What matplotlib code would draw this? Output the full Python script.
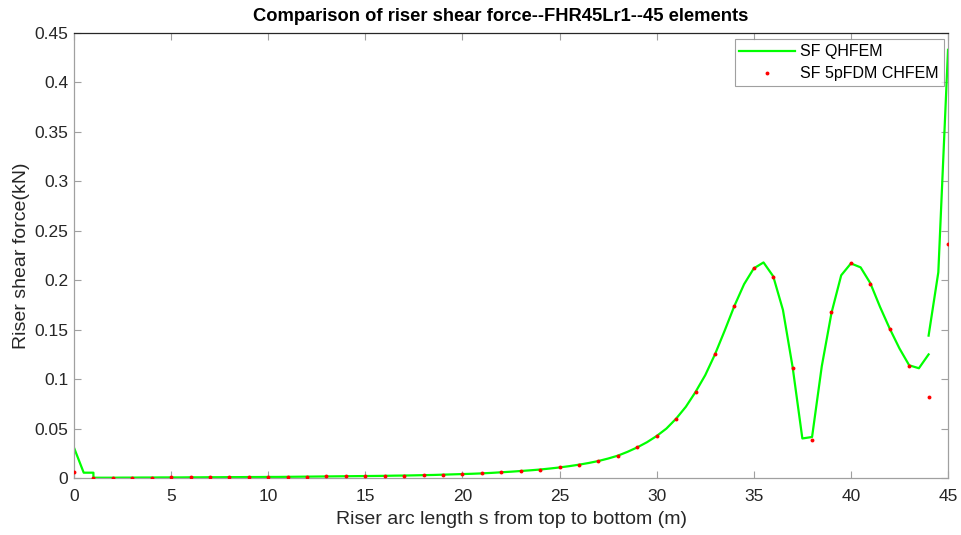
import numpy as np
import matplotlib
matplotlib.use("Agg")
import matplotlib.pyplot as plt

plt.rcParams['font.family'] = ['Liberation Sans', 'DejaVu Sans']

# Shear force from the 5-point FDM CHFEM solution, one value per node (m)
fdm_s = list(range(0, 46))
fdm_sf = [0.0057, 0.0003, 0.0003, 0.0004, 0.0005, 0.0006, 0.0007, 0.0008,
          0.0009, 0.0010, 0.0011, 0.0012, 0.0014, 0.0016, 0.0018, 0.0020,
          0.0022, 0.0025, 0.0029, 0.0034, 0.0040, 0.0047, 0.0058, 0.0071,
          0.0086, 0.0107, 0.0135, 0.0172, 0.0226, 0.0310, 0.0423, 0.0600,
          0.0867, 0.1250, 0.1740, 0.2125, 0.2030, 0.1110, 0.0385, 0.1675,
          0.2170, 0.1965, 0.1505, 0.1130, 0.0820, 0.2370]

# Shear force from QHFEM, sampled at element ends and mid-points
qh_s = [0.0, 0.5, 1.0, 1.0, 1.5, 2.0, 2.5, 3.0, 3.5, 4.0, 4.5, 5.0, 5.5, 6.0,
        6.5, 7.0, 7.5, 8.0, 8.5, 9.0, 9.5, 10.0, 10.5, 11.0, 11.5, 12.0,
        12.5, 13.0, 13.5, 14.0, 14.5, 15.0, 15.5, 16.0, 16.5, 17.0, 17.5,
        18.0, 18.5, 19.0, 19.5, 20.0, 20.5, 21.0, 21.5, 22.0, 22.5, 23.0,
        23.5, 24.0, 24.5, 25.0, 25.5, 26.0, 26.5, 27.0, 27.5, 28.0, 28.5,
        29.0, 29.5, 30.0, 30.5, 31.0, 31.5, 32.0, 32.5, 33.0, 33.5, 34.0,
        34.5, 35.0, 35.5, 36.0, 36.5, 37.0, 37.5, 38.0, 38.5, 39.0, 39.5,
        40.0, 40.5, 41.0, 41.5, 42.0, 42.5, 43.0, 43.5, 44.0, np.nan,
        44.0, 44.5, 45.0]
qh_sf = [0.0307, 0.0054, 0.0054, 0.0003, 0.0003, 0.0003, 0.0004, 0.0004,
         0.0005, 0.0005, 0.0006, 0.0006, 0.0006, 0.0007, 0.0007, 0.0008,
         0.0008, 0.0009, 0.0009, 0.0010, 0.0010, 0.0011, 0.0011, 0.0012,
         0.0013, 0.0014, 0.0015, 0.0016, 0.0017, 0.0018, 0.0019, 0.0020,
         0.0021, 0.0022, 0.0024, 0.0025, 0.0027, 0.0029, 0.0031, 0.0034,
         0.0037, 0.0040, 0.0043, 0.0047, 0.0052, 0.0058, 0.0064, 0.0071,
         0.0078, 0.0086, 0.0096, 0.0107, 0.0120, 0.0135, 0.0152, 0.0172,
         0.0197, 0.0226, 0.0265, 0.0310, 0.0362, 0.0425, 0.0500, 0.0600,
         0.0720, 0.0870, 0.1040, 0.1250, 0.1490, 0.1740, 0.1960, 0.2120,
         0.2180, 0.2040, 0.1700, 0.1120, 0.0400, 0.0415, 0.1130, 0.1670,
         0.2050, 0.2170, 0.2130, 0.1970, 0.1730, 0.1510, 0.1310, 0.1140,
         0.1110, 0.1250, np.nan, 0.1440, 0.2080, 0.4330]

x_ticks = list(range(0, 46, 5))
y_ticks = [0, 0.05, 0.1, 0.15, 0.2, 0.25, 0.3, 0.35, 0.4, 0.45]
y_tick_labels = ['0', '0.05', '0.1', '0.15', '0.2', '0.25', '0.3', '0.35', '0.4', '0.45']

fig = plt.figure(figsize=(9.61, 5.35), dpi=100)
ax = fig.add_axes([0.077, 0.1065, 0.9095, 0.8318])

ax.plot(qh_s, qh_sf, color='#00ff00', lw=1.6, label='SF QHFEM', zorder=2)
ax.plot(fdm_s, fdm_sf, linestyle='none', marker='o', markersize=2.8,
        color='#ff0000', markeredgewidth=0, label='SF 5pFDM CHFEM', zorder=3)

ax.set_xlim(0, 45)
ax.set_ylim(0, 0.45)
ax.set_xticks(x_ticks)
ax.set_yticks(y_ticks)
ax.set_yticklabels(y_tick_labels)

axis_grey = '#a0a0a0'
text_grey = '#262626'
ax.spines['left'].set_color(axis_grey)
ax.spines['bottom'].set_color(axis_grey)
ax.spines['right'].set_color(axis_grey)
ax.spines['top'].set_color('#262626')
for sp in ax.spines.values():
    sp.set_linewidth(0.9)

ax.tick_params(direction='in', length=5, width=0.8, colors=axis_grey,
               labelcolor=text_grey, labelsize=12.5, top=True, right=True)
ax.tick_params(axis='x', pad=8)
ax.tick_params(axis='y', pad=4)

ax.set_title('Comparison of riser shear force--FHR45Lr1--45 elements',
             fontsize=13.2, fontweight='bold', color='black', pad=8.5,
             x=0.488)
ax.set_xlabel('Riser arc length s from top to bottom (m)', fontsize=14,
              color=text_grey, labelpad=5)
ax.set_ylabel('Riser shear force(kN)', fontsize=14, color=text_grey,
              labelpad=3)

leg = ax.legend(loc='upper right', bbox_to_anchor=(0.9985, 0.993),
                fontsize=11.5, frameon=True, fancybox=False, borderpad=0.3,
                handlelength=3.5, handletextpad=0.3, labelspacing=0.45,
                borderaxespad=0.2)
leg.get_frame().set_edgecolor('#888888')
leg.get_frame().set_linewidth(0.8)

fig.savefig('out.png', dpi=100, facecolor='white')
